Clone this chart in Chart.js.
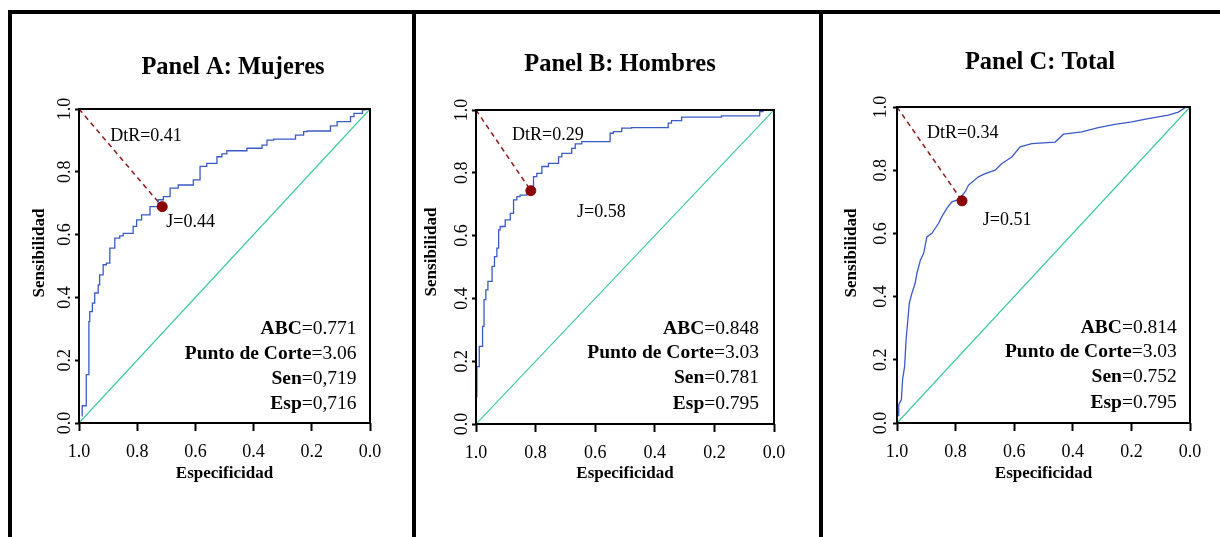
<!DOCTYPE html>
<html>
<head>
<meta charset="utf-8">
<title>Curvas ROC</title>
<script src="https://cdn.jsdelivr.net/npm/chart.js@4.4.1/dist/chart.umd.min.js"></script>
<style>
  body { margin: 0; background: #fff; }
  #page { position: relative; width: 1220px; height: 537px; overflow: hidden; background: #fff; }
  .bar { position: absolute; background: #000; }
  canvas { position: absolute; top: 14px; }
</style>
</head>
<body>
<div id="page">
  <div class="bar" style="left:8px;top:10px;width:1212px;height:4px"></div>
  <div class="bar" style="left:8px;top:10px;width:4px;height:527px"></div>
  <div class="bar" style="left:412px;top:10px;width:4px;height:527px"></div>
  <div class="bar" style="left:819px;top:10px;width:4px;height:527px"></div>
  <canvas id="panelA" width="400" height="523" style="left:12px"></canvas>
  <canvas id="panelB" width="403" height="523" style="left:416px"></canvas>
  <canvas id="panelC" width="397" height="523" style="left:823px"></canvas>
</div>
<script>
// ---- data ----
const tickValues = [0, 0.2, 0.4, 0.6, 0.8, 1.0];
const panelTitles = ["Panel A: Mujeres", "Panel B: Hombres", "Panel C: Total"];
const xLabel = "Especificidad";
const yLabel = "Sensibilidad";

// ROC curves: specificity (x) / sensitivity (y)
const specMujeres = [0.989, 0.989, 0.975, 0.975, 0.966, 0.963, 0.954, 0.946, 0.934, 0.929, 0.917, 0.906, 0.894, 0.877, 0.860, 0.848, 0.814, 0.802, 0.785, 0.756, 0.728, 0.710, 0.687, 0.659, 0.607, 0.584, 0.561, 0.526, 0.509, 0.492, 0.423, 0.371, 0.354, 0.331, 0.256, 0.228, 0.216, 0.136, 0.113, 0.067, 0.055, 0.026, 0.015, 0.0];
const sensMujeres = [0.021, 0.055, 0.055, 0.138, 0.154, 0.323, 0.355, 0.382, 0.414, 0.440, 0.472, 0.504, 0.509, 0.557, 0.589, 0.596, 0.604, 0.626, 0.647, 0.663, 0.689, 0.711, 0.721, 0.748, 0.758, 0.774, 0.817, 0.827, 0.848, 0.857, 0.867, 0.875, 0.885, 0.901, 0.904, 0.917, 0.928, 0.930, 0.946, 0.960, 0.976, 0.986, 0.997, 1.0];

const specHombres = [1.000, 0.997, 0.989, 0.978, 0.973, 0.967, 0.960, 0.946, 0.938, 0.930, 0.924, 0.919, 0.902, 0.885, 0.874, 0.863, 0.852, 0.829, 0.807, 0.796, 0.779, 0.757, 0.723, 0.712, 0.679, 0.667, 0.645, 0.634, 0.550, 0.539, 0.511, 0.478, 0.355, 0.344, 0.310, 0.176, 0.137, 0.048, 0.037, 0.0];
const sensHombres = [0.003, 0.088, 0.183, 0.247, 0.311, 0.396, 0.427, 0.454, 0.502, 0.533, 0.560, 0.618, 0.629, 0.650, 0.671, 0.714, 0.724, 0.729, 0.745, 0.788, 0.798, 0.820, 0.830, 0.851, 0.862, 0.878, 0.892, 0.899, 0.899, 0.926, 0.931, 0.942, 0.944, 0.958, 0.966, 0.977, 0.981, 0.981, 0.995, 1.0];

const specTotal = [0.994, 0.994, 0.985, 0.981, 0.974, 0.969, 0.963, 0.958, 0.949, 0.938, 0.932, 0.920, 0.909, 0.898, 0.881, 0.858, 0.847, 0.830, 0.813, 0.790, 0.767, 0.756, 0.722, 0.699, 0.665, 0.642, 0.608, 0.580, 0.540, 0.460, 0.432, 0.369, 0.313, 0.256, 0.199, 0.142, 0.074, 0.040, 0.017, 0.0];
const sensTotal = [0.021, 0.058, 0.074, 0.137, 0.179, 0.263, 0.326, 0.379, 0.411, 0.442, 0.474, 0.516, 0.537, 0.589, 0.600, 0.632, 0.653, 0.679, 0.700, 0.707, 0.732, 0.753, 0.779, 0.789, 0.800, 0.821, 0.842, 0.874, 0.884, 0.889, 0.914, 0.921, 0.935, 0.945, 0.953, 0.963, 0.974, 0.984, 0.998, 1.0];

// optimal cut-off point of each panel
const cutSpec = [0.714, 0.816, 0.778];
const cutSens = [0.689, 0.743, 0.703];

const dtrLabels = ["DtR=0.41", "DtR=0.29", "DtR=0.34"];
const jLabels = ["J=0.44", "J=0.58", "J=0.51"];
const abcValues = ["0.771", "0.848", "0.814"];
const corteValues = ["3.06", "3.03", "3.03"];
const senValues = ["0,719", "0.781", "0.752"];
const espValues = ["0,716", "0.795", "0.795"];

// ---- layout of each panel (canvas pixels / axis units) ----
const panels = [
  { id: "panelA", spec: specMujeres, sens: sensMujeres, stepped: "after",
    left: 67, right: 358, top: 95, bottom: 409,
    titleX: 221, titleY: 54, yTitleX: 28, yTitleY: 239, yTickGap: 14,
    dtrAt: [0.893, 0.914], jAt: [0.700, 0.640], statsX: 0.046, statsY: [0.300, 0.221, 0.141, 0.062] },
  { id: "panelB", spec: specHombres, sens: sensHombres, stepped: "after",
    left: 60, right: 358, top: 96, bottom: 410,
    titleX: 204, titleY: 51, yTitleX: 16, yTitleY: 238, yTickGap: 14,
    dtrAt: [0.879, 0.920], jAt: [0.661, 0.675], statsX: 0.050, statsY: [0.303, 0.227, 0.147, 0.064] },
  { id: "panelC", spec: specTotal, sens: sensTotal, stepped: false,
    left: 74, right: 367, top: 93, bottom: 409,
    titleX: 217, titleY: 49, yTitleX: 29, yTitleY: 239, yTickGap: 16,
    dtrAt: [0.898, 0.917], jAt: [0.707, 0.642], statsX: 0.045, statsY: [0.301, 0.226, 0.147, 0.064] }
];

const serif = '"Liberation Serif", "Times New Roman", serif';

// draws the box, rotated y tick labels, titles and the text annotations
const decorPlugin = {
  id: "decor",
  afterDraw(chart, args, opts) {
    const ctx = chart.ctx;
    const { left, top, right, bottom } = chart.chartArea;
    const xs = chart.scales.x;
    const ys = chart.scales.y;
    const p = opts.panel;
    const i = opts.index;

    ctx.save();
    ctx.strokeStyle = "#000";
    ctx.lineWidth = 2;
    ctx.strokeRect(left, top, right - left, bottom - top);

    ctx.fillStyle = "#000";
    ctx.textAlign = "center";
    ctx.textBaseline = "middle";

    // y tick labels, written bottom-to-top like R does
    ctx.font = "18px " + serif;
    tickValues.forEach((v) => {
      ctx.save();
      ctx.translate(left - p.yTickGap, ys.getPixelForValue(v));
      ctx.rotate(-Math.PI / 2);
      ctx.fillText(v.toFixed(1), 0, 0);
      ctx.restore();
    });

    // y axis title
    ctx.save();
    ctx.font = "bold 17px " + serif;
    ctx.translate(p.yTitleX, p.yTitleY);
    ctx.rotate(-Math.PI / 2);
    ctx.fillText(yLabel, 0, 0);
    ctx.restore();

    // panel title
    ctx.font = "bold 24.5px " + serif;
    ctx.fillText(panelTitles[i], p.titleX, p.titleY);

    // DtR and J labels
    ctx.font = "18px " + serif;
    ctx.textAlign = "left";
    ctx.fillText(dtrLabels[i], xs.getPixelForValue(p.dtrAt[0]), ys.getPixelForValue(p.dtrAt[1]));
    ctx.fillText(jLabels[i], xs.getPixelForValue(p.jAt[0]), ys.getPixelForValue(p.jAt[1]));

    // stats block, right aligned, bold name + plain value
    const lines = [
      ["ABC", "=" + abcValues[i]],
      ["Punto de Corte", "=" + corteValues[i]],
      ["Sen", "=" + senValues[i]],
      ["Esp", "=" + espValues[i]]
    ];
    const sx = xs.getPixelForValue(p.statsX);
    ctx.textAlign = "right";
    lines.forEach((ln, k) => {
      const sy = ys.getPixelForValue(p.statsY[k]);
      ctx.font = "19.5px " + serif;
      ctx.fillText(ln[1], sx, sy);
      const w = ctx.measureText(ln[1]).width;
      ctx.font = "bold 19.5px " + serif;
      ctx.fillText(ln[0], sx - w, sy);
    });
    ctx.restore();
  }
};

function makePanel(p, index) {
  const canvas = document.getElementById(p.id);
  const curve = p.spec.map((s, k) => ({ x: s, y: p.sens[k] }));
  const cut = { x: cutSpec[index], y: cutSens[index] };

  return new Chart(canvas, {
    type: "scatter",
    data: {
      datasets: [
        { data: [cut], pointRadius: 5, pointHoverRadius: 5, backgroundColor: "#8b0000", borderColor: "#8b0000" },
        { data: curve, showLine: true, stepped: p.stepped, borderColor: "#3a5bc7", borderWidth: 1.3, pointRadius: 0 },
        { data: [{ x: 1, y: 1 }, cut], showLine: true, borderColor: "#8b1a1a", borderWidth: 1.5, borderDash: [5, 4], pointRadius: 0 },
        { data: [{ x: 1, y: 0 }, { x: 0, y: 1 }], showLine: true, borderColor: "#3cc8a0", borderWidth: 1.2, pointRadius: 0 }
      ]
    },
    options: {
      responsive: false,
      animation: false,
      layout: { padding: { left: 0, top: p.top, right: canvas.width - p.right, bottom: 0 } },
      plugins: {
        legend: { display: false },
        tooltip: { enabled: false },
        decor: { panel: p, index: index }
      },
      scales: {
        x: {
          type: "linear",
          reverse: true,
          min: 0,
          max: 1,
          ticks: {
            stepSize: 0.2,
            autoSkip: false,
            maxRotation: 0,
            padding: 10,
            color: "#000",
            font: { family: serif, size: 18 },
            callback: (v) => Number(v).toFixed(1)
          },
          grid: { drawOnChartArea: false, drawTicks: true, tickLength: 8, tickWidth: 2, tickColor: "#000" },
          border: { display: false },
          title: {
            display: true,
            text: xLabel,
            color: "#000",
            font: { family: serif, size: 17, weight: "bold" },
            padding: { top: 0, bottom: 53 }
          },
          afterFit: (s) => { s.height = canvas.height - p.bottom; }
        },
        y: {
          type: "linear",
          min: 0,
          max: 1,
          ticks: { stepSize: 0.2, display: false },
          grid: { drawOnChartArea: false, drawTicks: true, tickLength: 4, tickWidth: 2, tickColor: "#000" },
          border: { display: false },
          afterFit: (s) => { s.width = p.left; }
        }
      }
    },
    plugins: [decorPlugin]
  });
}

panels.forEach((p, i) => makePanel(p, i));
</script>
</body>
</html>
